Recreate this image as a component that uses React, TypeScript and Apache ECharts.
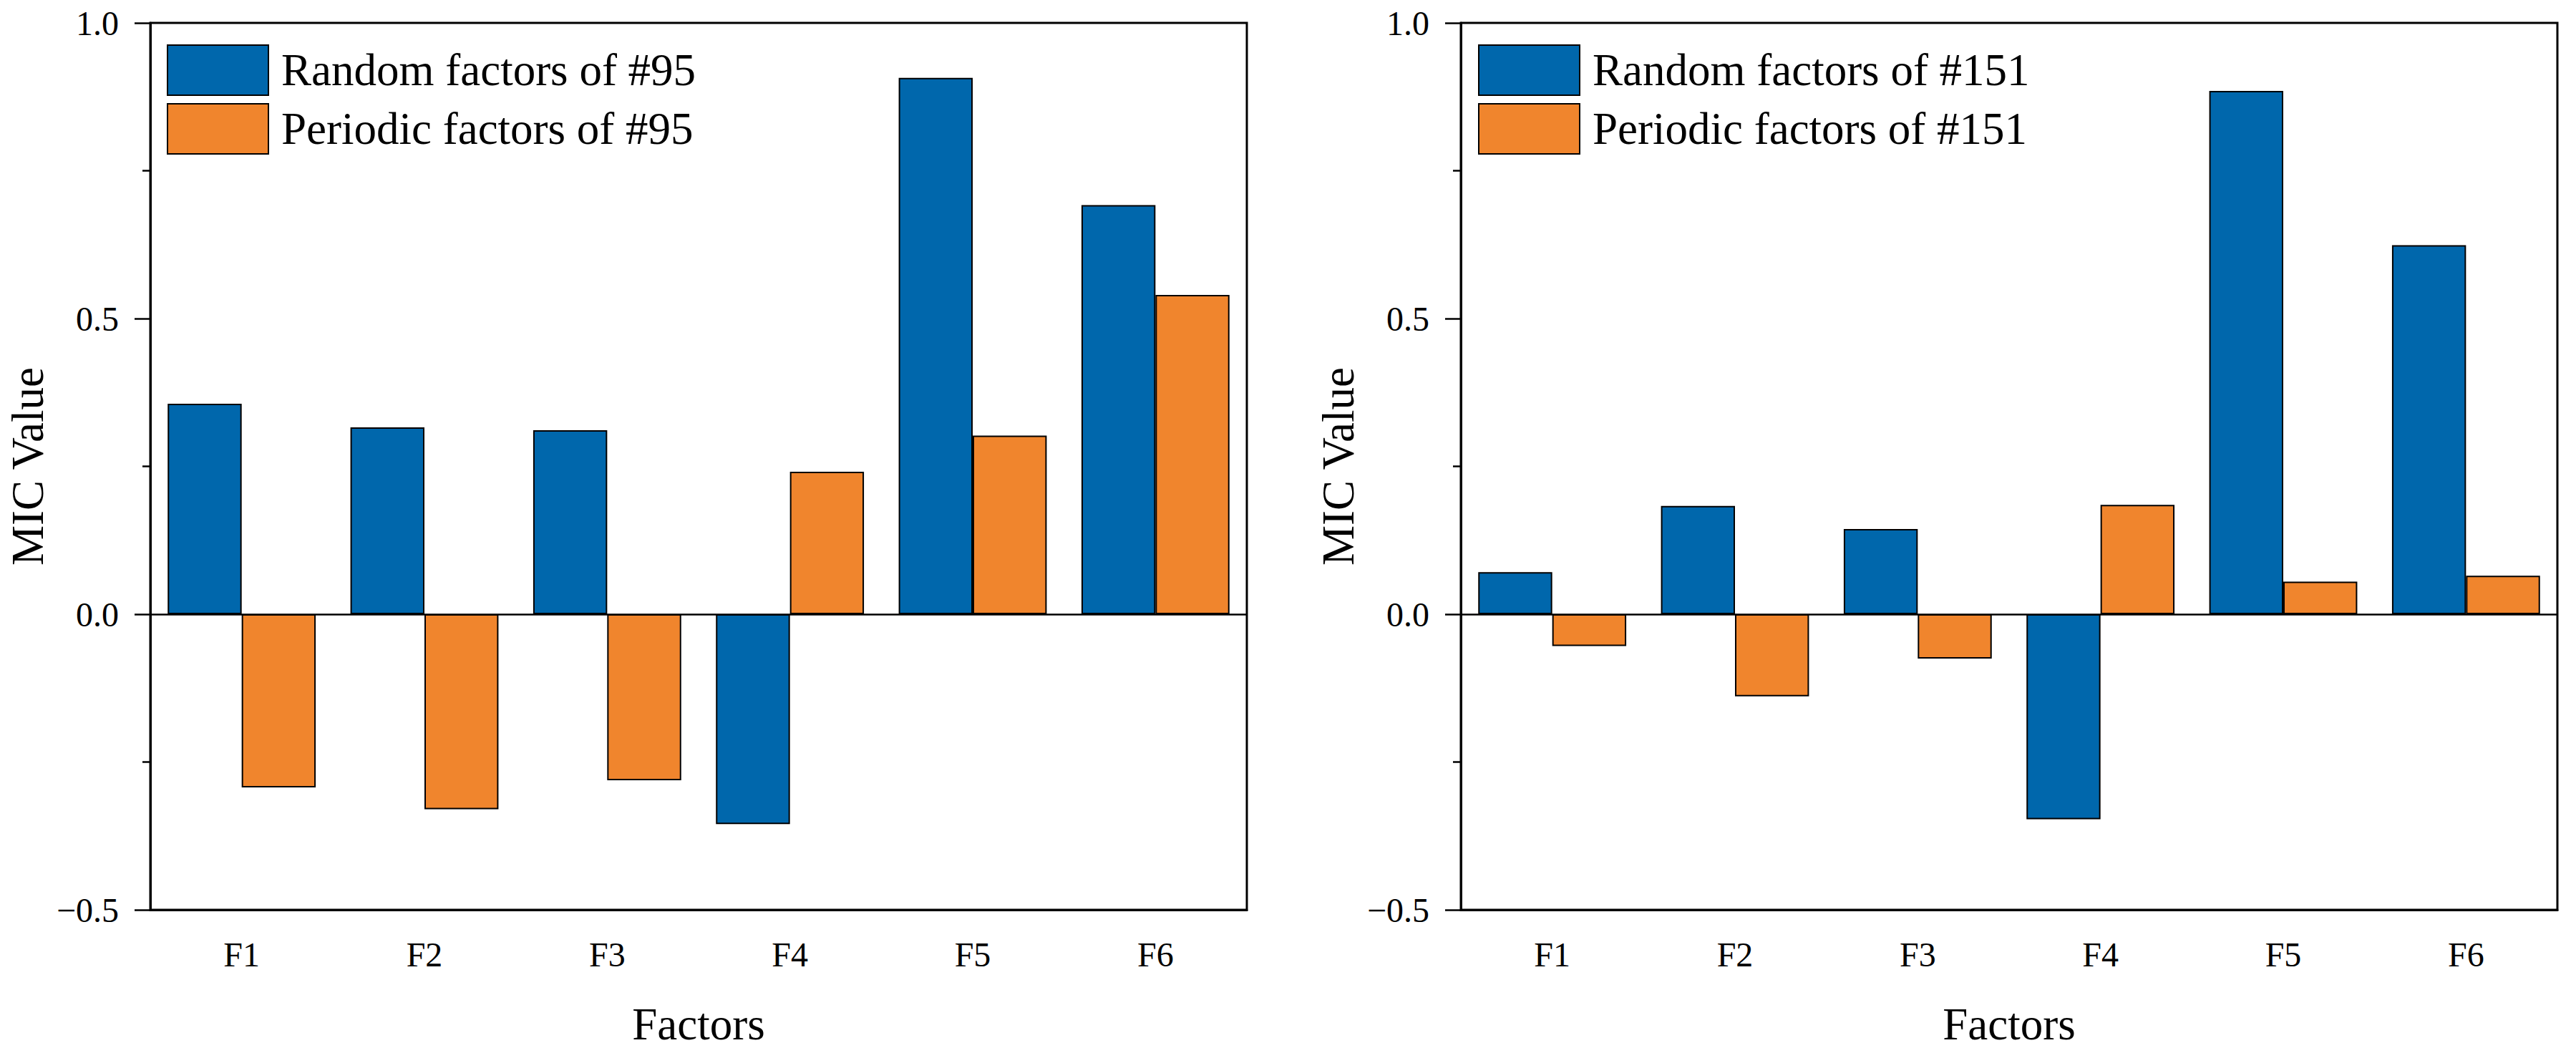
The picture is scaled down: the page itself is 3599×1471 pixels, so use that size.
import React, { useEffect, useRef } from "react";
import * as echarts from "echarts";

const categories = ["F1", "F2", "F3", "F4", "F5", "F6"];
const random95 = [0.356, 0.316, 0.311, -0.355, 0.907, 0.692];
const periodic95 = [-0.293, -0.33, -0.281, 0.241, 0.302, 0.54];
const random151 = [0.071, 0.183, 0.144, -0.347, 0.885, 0.624];
const periodic151 = [-0.054, -0.139, -0.075, 0.185, 0.055, 0.065];
const seriesNames95 = ["Random factors of #95", "Periodic factors of #95"];
const seriesNames151 = ["Random factors of #151", "Periodic factors of #151"];

const BLUE = "#0067AC";
const ORANGE = "#F0852D";
const FONT = "Liberation Serif";

export default function App() {
  const ref = useRef<HTMLDivElement>(null);
  useEffect(() => {
    document.body.style.margin = "0";
    const chart = echarts.init(ref.current!, null, { renderer: "svg" });
    const grids = [
      { left: 210, top: 32, width: 1532, height: 1239 },
      { left: 2041, top: 32, width: 1532, height: 1239 },
    ];
    const xAxis = grids.map((_, i) => ({
      type: "category",
      gridIndex: i,
      data: categories,
      name: "Factors",
      nameLocation: "middle",
      nameGap: 128,
      nameTextStyle: { fontSize: 63, fontFamily: FONT, color: "#000" },
      axisLine: { onZero: false, lineStyle: { color: "#000", width: 3 } },
      axisTick: { alignWithLabel: true, length: 25, lineStyle: { color: "#000", width: 2.5 } },
      axisLabel: { fontSize: 48, fontFamily: FONT, color: "#000", margin: 38 },
      splitLine: { show: false },
    }));
    const yAxis = grids.map((_, i) => ({
      type: "value",
      gridIndex: i,
      min: -0.5,
      max: 1.0,
      interval: 0.5,
      name: "MIC Value",
      nameLocation: "middle",
      nameGap: 140,
      nameTextStyle: { fontSize: 63, fontFamily: FONT, color: "#000" },
      axisLine: { show: true, lineStyle: { color: "#000", width: 3 } },
      axisTick: { show: true, length: 22, lineStyle: { color: "#000", width: 2.5 } },
      minorTick: { show: true, splitNumber: 2, length: 11, lineStyle: { color: "#000", width: 2.5 } },
      axisLabel: {
        fontSize: 48,
        fontFamily: FONT,
        color: "#000",
        margin: 44,
        formatter: (v: number) => v.toFixed(1).replace("-", "\u2212"),
      },
      splitLine: { show: false },
    }));
    const mkSeries = (name: string, data: number[], color: string, idx: number, zero: boolean) => ({
      type: "bar",
      name,
      data,
      xAxisIndex: idx,
      yAxisIndex: idx,
      barGap: "0%",
      barCategoryGap: "19%",
      itemStyle: { color, borderColor: "#000", borderWidth: 2 },
      markLine: zero
        ? {
            silent: true,
            symbol: "none",
            label: { show: false },
            lineStyle: { color: "#000", width: 2.5, type: "solid" },
            data: [{ yAxis: 0 }],
          }
        : undefined,
    });
    const legendBase = {
      orient: "vertical",
      top: 62,
      itemWidth: 141,
      itemHeight: 70,
      itemGap: 10,
      padding: 0,
      icon: "rect",
      itemStyle: { borderColor: "#000", borderWidth: 2 },
      textStyle: { fontSize: 63, fontFamily: FONT, color: "#000", padding: [0, 0, 0, 13] },
    };
    chart.setOption({
      animation: false,
      backgroundColor: "#fff",
      textStyle: { fontFamily: FONT },
      grid: grids.map((g) => ({ ...g, show: true, borderColor: "#000", borderWidth: 3, backgroundColor: "transparent" })),
      legend: [
        { ...legendBase, left: 233, data: seriesNames95 },
        { ...legendBase, left: 2065, data: seriesNames151 },
      ],
      xAxis,
      yAxis,
      series: [
        mkSeries(seriesNames95[0], random95, BLUE, 0, true),
        mkSeries(seriesNames95[1], periodic95, ORANGE, 0, false),
        mkSeries(seriesNames151[0], random151, BLUE, 1, true),
        mkSeries(seriesNames151[1], periodic151, ORANGE, 1, false),
      ],
    });
    return () => chart.dispose();
  }, []);
  return <div ref={ref} style={{ width: 3599, height: 1471 }} />;
}
